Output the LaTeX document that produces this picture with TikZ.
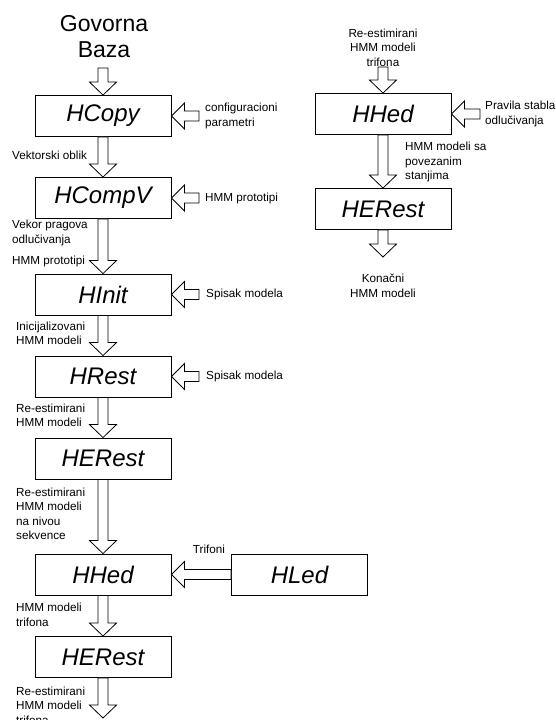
\documentclass[tikz,border=0pt]{standalone}
\usepackage{fontspec}
\setmainfont{Liberation Sans}
\usetikzlibrary{calc}
\tikzset{
  box/.style={draw, line width=0.9pt, minimum width=136pt, minimum height=41pt, inner sep=0pt, font=\fontsize{24}{28}\selectfont\itshape},
  lbl/.style={inner sep=0pt, align=left, anchor=west, font=\fontsize{11.7}{14.5}\selectfont},
  clbl/.style={inner sep=0pt, align=center, font=\fontsize{11.7}{14.5}\selectfont},
  barrow/.style={draw, fill=white, line width=0.8pt, line join=miter},
}
\newcommand\DownBlock[2]{\draw[barrow] ($(#1)+(-5,0)$) -- ($(#2)+(-5,-13)$) -- ($(#2)+(-13.5,-13)$) -- (#2) -- ($(#2)+(13.5,-13)$) -- ($(#2)+(5,-13)$) -- ($(#1)+(5,0)$) -- cycle;}
\newcommand\LeftBlock[2]{\draw[barrow] ($(#1)+(0,-5)$) -- ($(#2)+(13,-5)$) -- ($(#2)+(13,-13)$) -- (#2) -- ($(#2)+(13,13)$) -- ($(#2)+(13,5)$) -- ($(#1)+(0,5)$) -- cycle;}
\begin{document}
\begin{tikzpicture}[x=1pt,y=-1pt]
\fill[white] (0,0) rectangle (556,720);
\useasboundingbox (0,0) rectangle (556,720);
\clip (0,0) rectangle (556,720);

% left column boxes
\node[box] (hcopy)   at (103,116)   {HCopy};
\node[box] (hcompv)  at (103,198)   {HCompV};
\node[box] (hinit)   at (103,294.5) {HInit};
\node[box] (hrest)   at (103,376.5) {HRest};
\node[box] (herest)  at (103,458.5) {HERest};
\node[box] (hhed)    at (103,574.5) {HHed};
\node[box] (herestb) at (103,657)   {HERest};
\node[box] (hled)    at (299.5,574.5) {HLed};
% right column boxes
\node[box] (hhedr)   at (383,114)   {HHed};
\node[box] (herestr) at (383,209)   {HERest};

% title
\node[inner sep=0pt, align=center, font=\fontsize{23}{26}\selectfont] (gb) at (104,37) {Govorna\\Baza};

% free ends
\coordinate (gbtop) at (103,68);
\coordinate (endl) at (103,718);
\coordinate (cfg) at (199,116);
\coordinate (proto) at (199,198);
\coordinate (sp1) at (199,294.5);
\coordinate (sp2) at (199,376.5);
\coordinate (rtop) at (383,67);
\coordinate (prav) at (480,114);
\coordinate (rend) at (383,257);

% down arrows left
\DownBlock{gbtop}{hcopy.north}
\DownBlock{hcopy.south}{hcompv.north}
\DownBlock{hcompv.south}{hinit.north}
\DownBlock{hinit.south}{hrest.north}
\DownBlock{hrest.south}{herest.north}
\DownBlock{herest.south}{hhed.north}
\DownBlock{hhed.south}{herestb.north}
\DownBlock{herestb.south}{endl}
% side arrows left
\LeftBlock{cfg}{hcopy.east}
\LeftBlock{proto}{hcompv.east}
\LeftBlock{sp1}{hinit.east}
\LeftBlock{sp2}{hrest.east}
\LeftBlock{hled.west}{hhed.east}
% right column arrows
\DownBlock{rtop}{hhedr.north}
\DownBlock{hhedr.south}{herestr.north}
\DownBlock{herestr.south}{rend}
\LeftBlock{prav}{hhedr.east}

% labels left
\node[lbl] (l1) at (205,116) {configuracioni\\parametri};
\node[lbl] (l2) at (12,155) {Vektorski oblik};
\node[lbl] (l3) at (205,198) {HMM prototipi};
\node[lbl] (l4) at (12,233) {Vekor pragova\\odlučivanja};
\node[lbl] (l5) at (12,261) {HMM prototipi};
\node[lbl] (l6) at (206,294) {Spisak modela};
\node[lbl] (l7) at (16,333.5) {Inicijalizovani\\HMM modeli};
\node[lbl] (l8) at (206,376.5) {Spisak modela};
\node[lbl] (l9) at (16,415.5) {Re-estimirani\\HMM modeli};
\node[lbl] (l10) at (16,514) {Re-estimirani\\HMM modeli\\na nivou\\sekvence};
\node[clbl] (l11) at (209,549) {Trifoni};
\node[lbl] (l12) at (16,615) {HMM modeli\\trifona};
\node[lbl] (l13) at (16,705.5) {Re-estimirani\\HMM modeli\\trifona};
% labels right
\node[clbl] (r1) at (383,47.5) {Re-estimirani\\HMM modeli\\trifona};
\node[lbl] (r2) at (485,114) {Pravila stabla\\odlučivanja};
\node[lbl] (r3) at (405,162) {HMM modeli sa\\povezanim\\stanjima};
\node[clbl] (r4) at (383,286) {Konačni\\HMM modeli};
\end{tikzpicture}
\end{document}
